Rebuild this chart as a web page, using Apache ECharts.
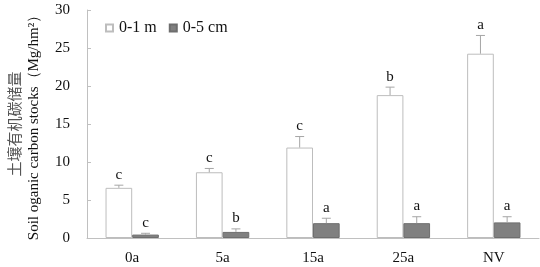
<!DOCTYPE html>
<html><head><meta charset="utf-8">
<script src="https://cdn.jsdelivr.net/npm/echarts@6/dist/echarts.min.js"></script>
<style>html,body{margin:0;padding:0;background:#fff}#c{width:540px;height:267px}</style>
</head><body><div id="c"></div>
<script>
var categories = ['0a', '5a', '15a', '25a', 'NV'];
var deepValues = [6.6, 8.65, 11.9, 18.8, 24.25];
var deepErrors = [0.35, 0.5, 1.45, 1.05, 2.4];
var deepLetters = ['c', 'c', 'c', 'b', 'a'];
var surfValues = [0.45, 0.8, 1.95, 1.95, 2.05];
var surfErrors = [0.17, 0.4, 0.65, 0.85, 0.75];
var surfLetters = ['c', 'b', 'a', 'a', 'a'];
var seriesNames = ['0-1 m', '0-5 cm'];
var yTicks = {min: 0, max: 30, interval: 5};

var GAP = 0.41;
var serif = '"Liberation Serif","Times New Roman",serif';

function errSeries(vals, errs, letters, side) {
  var data = vals.map(function (v, i) { return [i, v, errs[i]]; });
  return {
    type: 'custom',
    silent: true,
    z: 5,
    data: data,
    renderItem: function (params, api) {
      var idx = api.value(0);
      var v = api.value(1), e = api.value(2);
      var letter = letters[idx];
      var base = api.coord([idx, v]);
      var top = api.coord([idx, v + e]);
      var cw = api.size([1, 0])[0];
      var bw = cw * (1 - GAP) / 2;
      var x = base[0] + side * bw / 2;
      var cap = 4.5;
      return {
        type: 'group',
        children: [
          {type: 'line', shape: {x1: x, y1: base[1], x2: x, y2: top[1]}, style: {stroke: '#a6a6a6', lineWidth: 1}},
          {type: 'line', shape: {x1: x - cap, y1: top[1], x2: x + cap, y2: top[1]}, style: {stroke: '#a6a6a6', lineWidth: 1}},
          {type: 'text', style: {text: letter, x: x, y: top[1] - 3, textAlign: 'center', textVerticalAlign: 'bottom', fontFamily: serif, fontSize: 15, fill: '#111'}}
        ]
      };
    }
  };
}

var chart = echarts.init(document.getElementById('c'), null, {renderer: 'canvas'});
chart.setOption({
  animation: false,
  backgroundColor: '#fff',
  legend: {
    left: 100, top: 15,
    itemWidth: 7, itemHeight: 7, itemGap: 12,
    icon: 'rect',
    textStyle: {fontFamily: serif, fontSize: 16, color: '#111', padding: [0, 0, 0, 1]},
    data: seriesNames
  },
  grid: {left: 87, right: 1, top: 10, bottom: 29, containLabel: false, outerBoundsMode: 'none'},
  xAxis: {
    type: 'category',
    data: categories,
    axisLine: {lineStyle: {color: '#c0c0c0'}},
    axisTick: {inside: true, length: 4, lineStyle: {color: '#c0c0c0'}, alignWithLabel: false},
    axisLabel: {fontFamily: serif, fontSize: 15, color: '#111', margin: 13}
  },
  yAxis: {
    type: 'value',
    min: yTicks.min, max: yTicks.max, interval: yTicks.interval,
    splitLine: {show: false},
    axisLine: {show: true, lineStyle: {color: '#c0c0c0'}},
    axisTick: {show: true, inside: true, length: 4, lineStyle: {color: '#c0c0c0'}},
    axisLabel: {fontFamily: serif, fontSize: 15, color: '#111', margin: 17},
    name: '{cn|土壤有机碳储量}\n{en|Soil oganic carbon stocks（Mg/hm²）}',
    nameLocation: 'middle',
    nameRotate: 90,
    nameGap: 43,
    nameTextStyle: {
      rich: {
        cn: {fontFamily: '"Noto Sans CJK SC",sans-serif', fontSize: 15, color: '#555', lineHeight: 21},
        en: {fontFamily: serif, fontSize: 15, color: '#111', lineHeight: 19}
      }
    }
  },
  series: [
    {
      name: seriesNames[0], type: 'bar', data: deepValues,
      barGap: '0%', barCategoryGap: (GAP * 100) + '%',
      itemStyle: {color: '#ffffff', borderColor: '#bdbdbd', borderWidth: 1}
    },
    {
      name: seriesNames[1], type: 'bar', data: surfValues,
      barGap: '0%', barCategoryGap: (GAP * 100) + '%',
      itemStyle: {color: '#808080', borderColor: '#6e6e6e', borderWidth: 1}
    },
    errSeries(deepValues, deepErrors, deepLetters, -1),
    errSeries(surfValues, surfErrors, surfLetters, 1)
  ]
});
</script>
</body></html>
